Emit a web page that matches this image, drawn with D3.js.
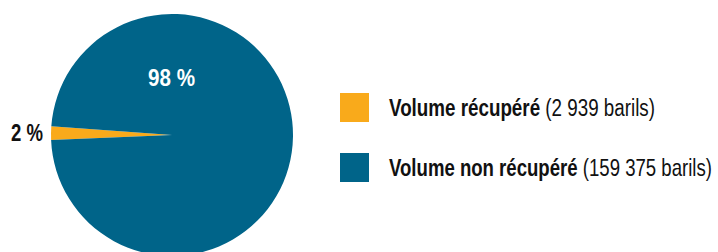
<!DOCTYPE html>
<html>
<head>
<meta charset="utf-8">
<script src="https://cdn.jsdelivr.net/npm/d3@7"></script>
<style>
  body { margin: 0; background: #fff; }
  svg { display: block; }
</style>
</head>
<body>
<svg id="chart" width="718" height="252"></svg>
<script>
// data
const categories = ["Volume récupéré", "Volume non récupéré"]
const barrels = [2939, 159375]
const pctLabels = ["2 %", "98 %"]
const barrelLabels = ["(2 939 barils)", "(159 375 barils)"]
const colors = ["#F9AA1B", "#006489"]

const svg = d3.select("#chart")
const font = "'Liberation Sans', Arial, sans-serif"
const fontSize = 24.8

const cx = 172, cy = 135, radius = 121

const data = categories.map((c, i) => ({name: c, value: barrels[i], pct: pctLabels[i],
    sub: barrelLabels[i], color: colors[i]}))

// orange wedge sits just left of 9 o'clock
const start = 267.6 * Math.PI / 180
const pie = d3.pie()
    .sort(null)
    .value(d => d.value)
    .startAngle(start)
    .endAngle(start + 2 * Math.PI)

const arc = d3.arc().innerRadius(0).outerRadius(radius)

const pieGroup = svg.append("g")
    .attr("transform", `translate(${cx},${cy})`)

const slices = pie(data)

pieGroup.selectAll("path")
    .data(slices)
    .enter()
    .append("path")
    .attr("d", arc)
    .attr("fill", d => d.data.color)

// condensed look: squeeze a regular sans horizontally
function squeezed(parent, x, y, anchor, targetWidth) {
    const g = parent.append("g").attr("transform", `translate(${x},${y})`)
    const t = g.append("text")
        .attr("font-family", font)
        .attr("font-size", `${fontSize}px`)
    return {g, t, fit() {
        const w = t.node().getComputedTextLength()
        const k = targetWidth / w
        const dx = anchor === "end" ? -targetWidth : anchor === "middle" ? -targetWidth / 2 : 0
        g.attr("transform", `translate(${x + dx},${y}) scale(${k},1)`)
    }}
}

// small slice label, outside on the left
const smallLab = squeezed(svg, 43, 141, "end", 32)
smallLab.t.attr("font-weight", "bold").attr("fill", "#111").text(slices[0].data.pct)
smallLab.fit()

// big slice label, inside near the top
const bigLab = squeezed(svg, 171.5, 86, "middle", 47)
bigLab.t.attr("font-weight", "bold").attr("fill", "#fff").text(slices[1].data.pct)
bigLab.fit()

// legend
const legendX = 340, legendY = 93, legendPitch = 60, swatch = 29
const legendWidths = [266, 323]

data.forEach((d, i) => {
    svg.append("rect")
        .attr("x", legendX)
        .attr("y", legendY + i * legendPitch)
        .attr("width", swatch)
        .attr("height", swatch)
        .attr("fill", d.color)
    const lab = squeezed(svg, legendX + 49, legendY + i * legendPitch + swatch / 2 + 8.5, "start", legendWidths[i])
    lab.t.attr("fill", "#111")
    lab.t.append("tspan").attr("font-weight", "bold").text(d.name + " ")
    lab.t.append("tspan").text(d.sub)
    lab.fit()
})
</script>
</body>
</html>
